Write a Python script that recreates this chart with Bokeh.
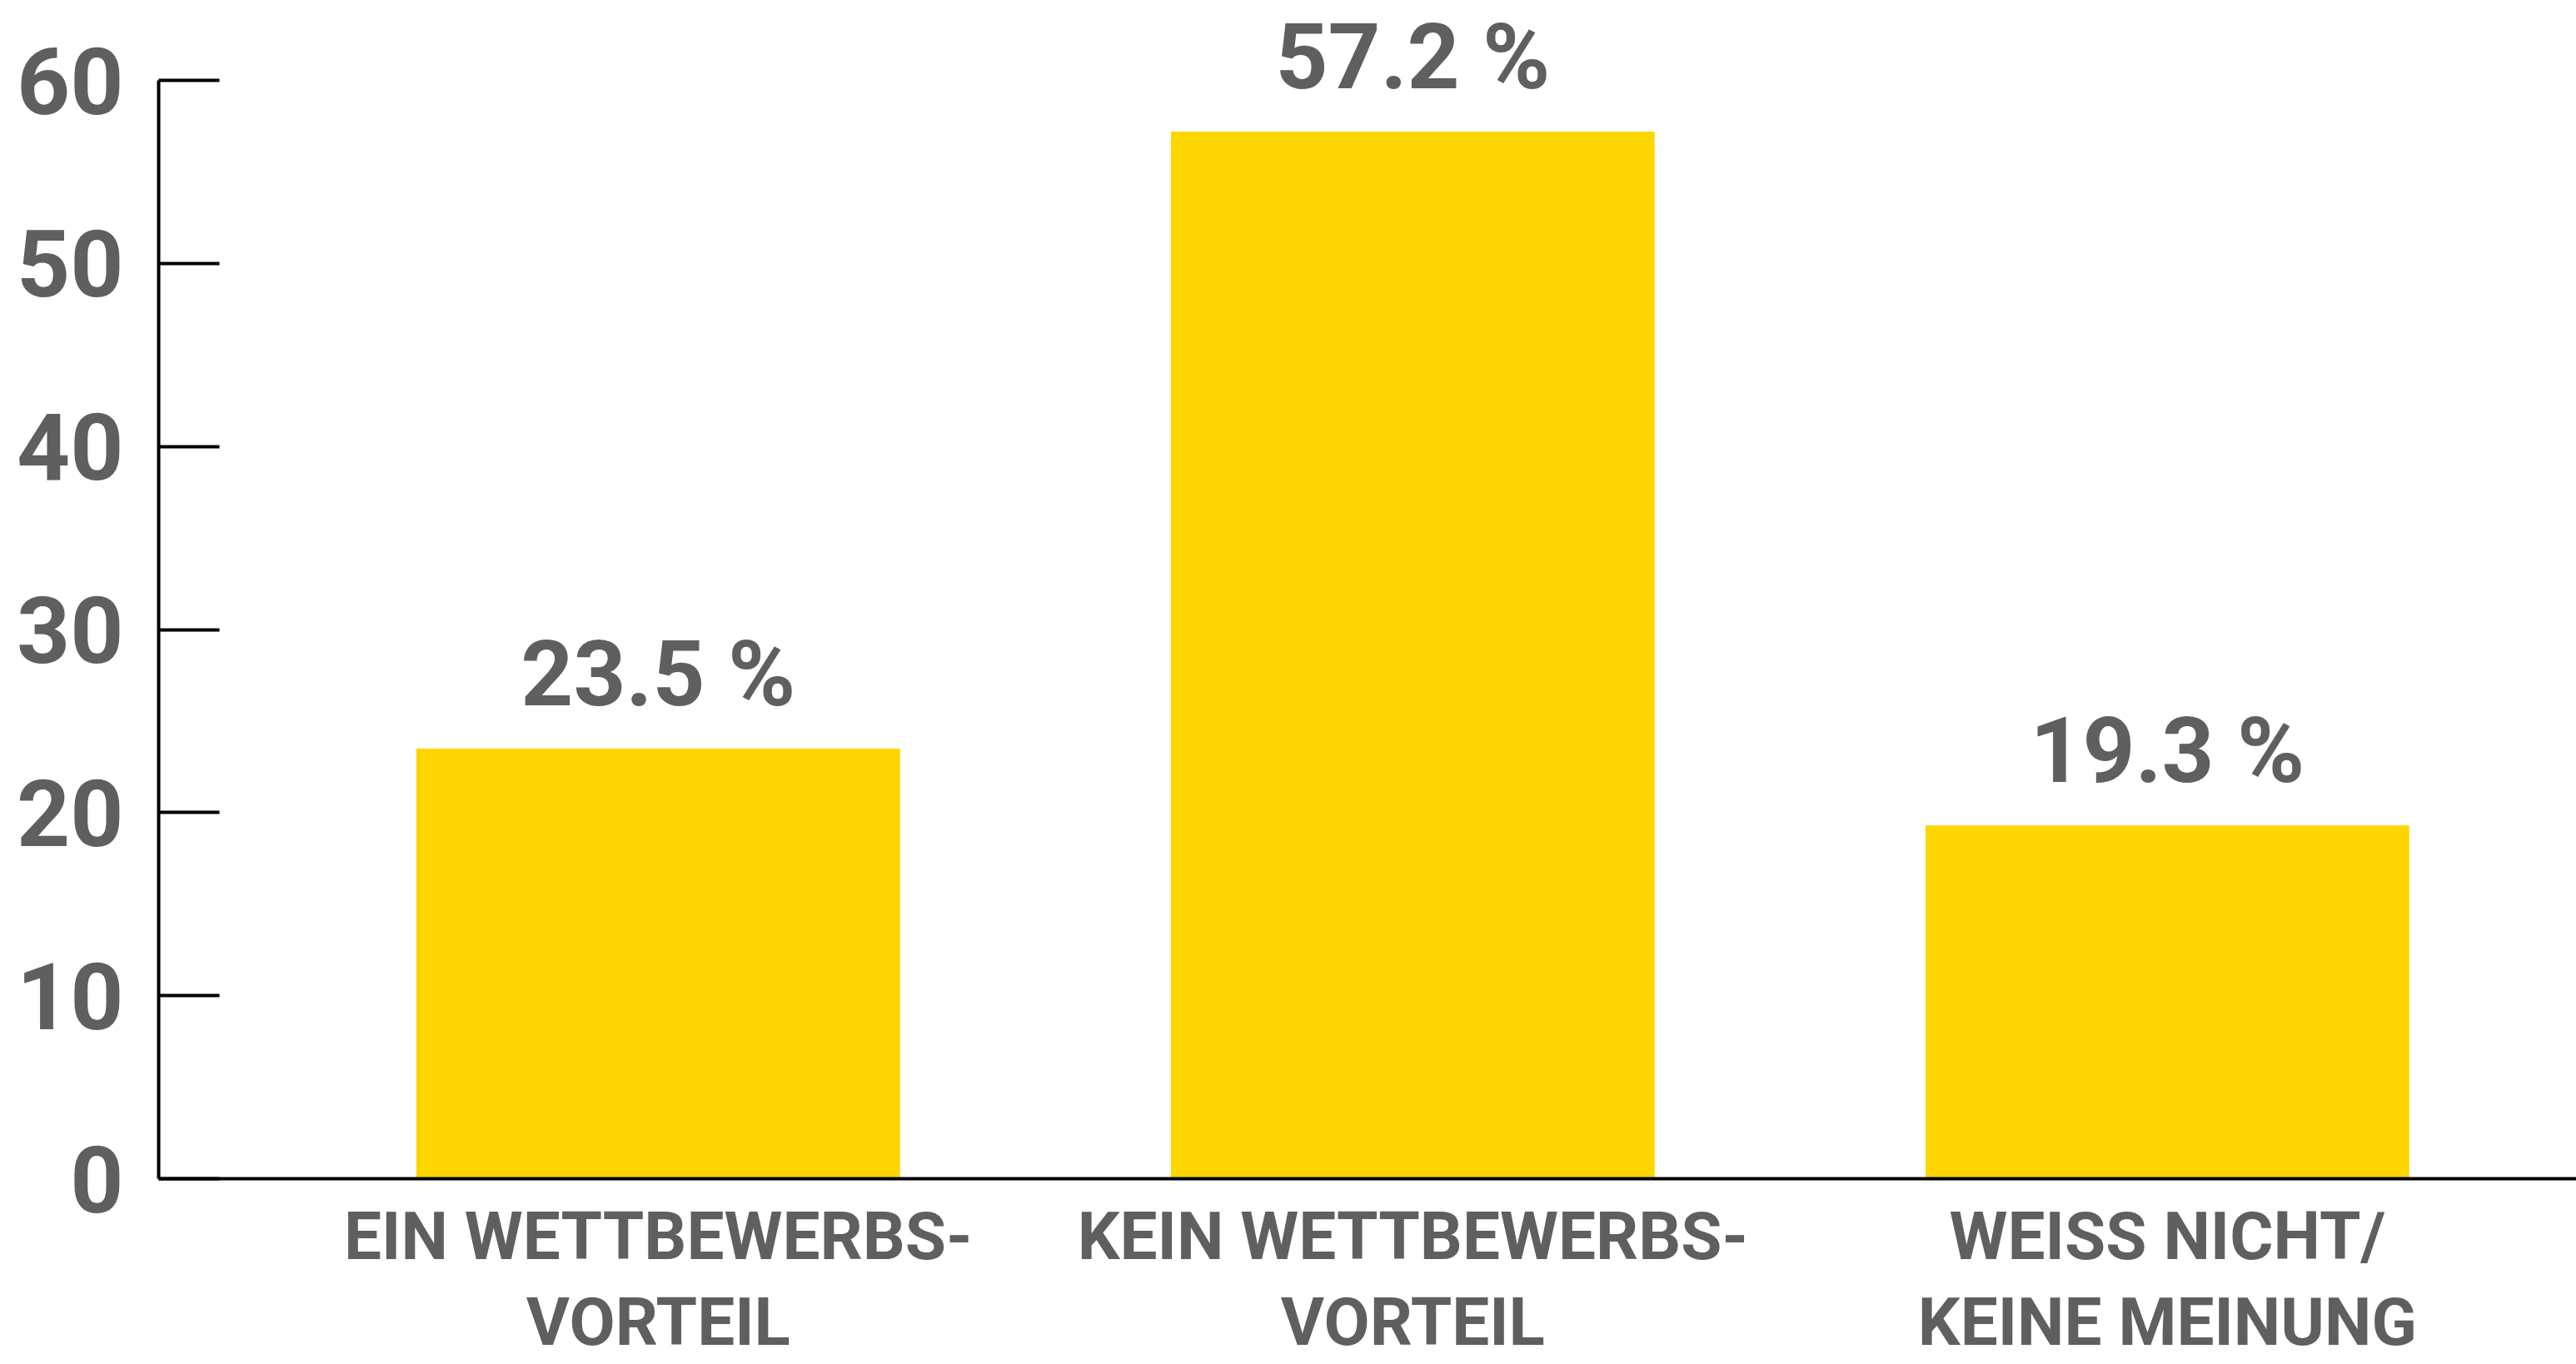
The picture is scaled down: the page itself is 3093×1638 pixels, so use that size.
from bokeh.plotting import figure
from bokeh.models import Range1d, FixedTicker, ColumnDataSource, LabelSet
from bokeh.core.properties import value
from bokeh.embed import file_html
from bokeh.resources import INLINE

categories = ["EIN WETTBEWERBS-\nVORTEIL", "KEIN WETTBEWERBS-\nVORTEIL", "WEISS NICHT/\nKEINE MEINUNG"]
values = [23.5, 57.2, 19.3]
value_labels = ["23.5 %", "57.2 %", "19.3 %"]
y_ticks = [0, 10, 20, 30, 40, 50, 60]

FONT = "Roboto"
GRAY = "#5f5f5f"
YELLOW = "#FDD600"

positions = list(range(len(categories)))
src = ColumnDataSource(dict(x=positions, top=values, label=value_labels))

p = figure(width=3093, height=1638, output_backend="svg", toolbar_location=None,
           x_range=Range1d(-0.662, 2.542), y_range=Range1d(0, 64.367),
           min_border_left=190, min_border_right=0, min_border_top=0, min_border_bottom=223)

p.vbar(x="x", top="top", bottom=0, width=0.641, source=src, color=YELLOW, line_color=None)

labels = LabelSet(x="x", y="top", text="label", source=src, text_align="center",
                  text_baseline="alphabetic", y_offset=52, text_font=value(FONT),
                  text_font_style="bold", text_font_size="110px", text_color=GRAY)
p.add_layout(labels)

p.xgrid.visible = False
p.ygrid.visible = False
p.outline_line_color = None

ya = p.yaxis[0]
ya.ticker = FixedTicker(ticks=y_ticks)
ya.bounds = (0, 60)
ya.major_tick_in = 73
ya.major_tick_out = 0
ya.minor_tick_line_color = None
ya.major_tick_line_width = 4
ya.major_tick_line_color = "black"
ya.axis_line_width = 4
ya.axis_line_color = "black"
ya.major_label_standoff = 42
ya.major_label_text_font = FONT
ya.major_label_text_font_style = "bold"
ya.major_label_text_font_size = "112px"
ya.major_label_text_color = GRAY

xa = p.xaxis[0]
xa.ticker = FixedTicker(ticks=positions)
xa.major_label_overrides = {i: c for i, c in zip(positions, categories)}
xa.major_tick_in = 0
xa.major_tick_out = 0
xa.minor_tick_line_color = None
xa.axis_line_width = 4
xa.axis_line_color = "black"
xa.major_label_standoff = 22
xa.major_label_text_font = FONT
xa.major_label_text_font_style = "bold"
xa.major_label_text_font_size = "80px"
xa.major_label_text_line_height = 1.1
xa.major_label_text_color = GRAY

open("out.html", "w").write(file_html(p, INLINE))
